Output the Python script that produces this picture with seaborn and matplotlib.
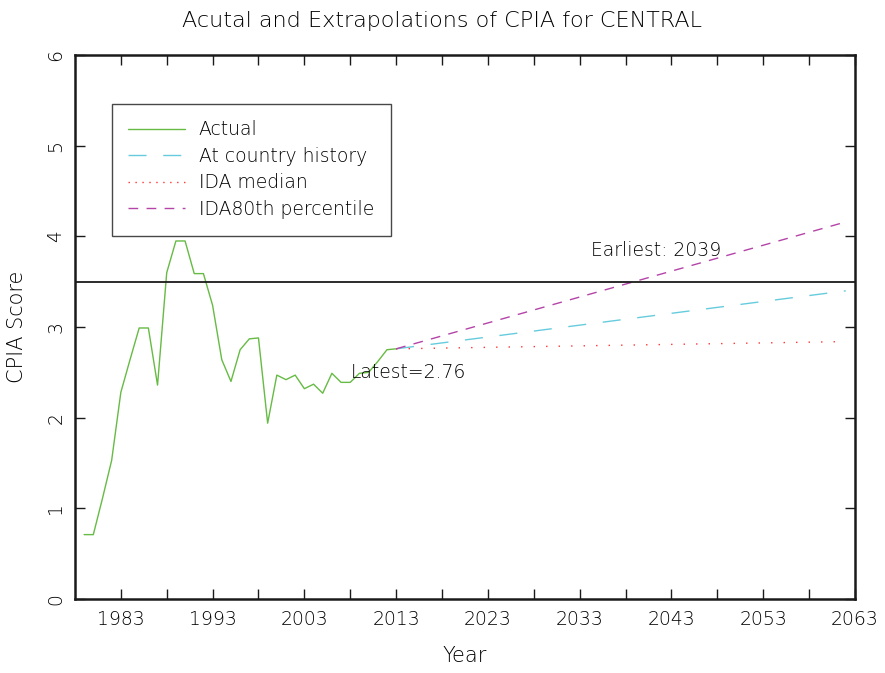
import matplotlib
matplotlib.use("Agg")
import matplotlib.pyplot as plt
import seaborn as sns
import pandas as pd
from matplotlib.lines import Line2D

# ---- data ----
actual_years = list(range(1979, 2014))
actual_values = [0.71, 0.71, 1.11, 1.53, 2.28, 2.64, 2.99, 2.99, 2.36, 3.60,
                 3.95, 3.95, 3.59, 3.59, 3.24, 2.64, 2.40, 2.75, 2.87, 2.88,
                 1.94, 2.47, 2.42, 2.47, 2.32, 2.37, 2.27, 2.49, 2.39, 2.39,
                 2.49, 2.50, 2.62, 2.75, 2.76]
extrap_years = [2013, 2062]
country_history = [2.76, 3.40]
ida_median = [2.76, 2.84]
ida_80th = [2.76, 4.16]
threshold = 3.5
latest_label = "Latest=2.76"
earliest_label = "Earliest: 2039"
xtick_major = [1983, 1993, 2003, 2013, 2023, 2033, 2043, 2053, 2063]
xtick_minor = [1988, 1998, 2008, 2018, 2028, 2038, 2048, 2058]
ytick_vals = [0, 1, 2, 3, 4, 5, 6]
legend_labels = ["Actual", "At country history", "IDA median", "IDA80th percentile"]

sns.set_style("white")
plt.rcParams['font.family'] = ['DejaVu Sans']
plt.rcParams['font.weight'] = 'light'
plt.rcParams['axes.labelweight'] = 'light'
plt.rcParams['figure.titleweight'] = 'light'

TXT = "#000000"
fig = plt.figure(figsize=(8.85, 6.73), dpi=100)
ax = fig.add_axes([0.0847, 0.110, 0.8813, 0.808])

c_act = "#66bb44"
c_cty = "#66ccdd"
c_med = "#ff3333"
c_80 = "#b444a8"

df_act = pd.DataFrame({"Year": actual_years, "CPIA": actual_values})
sns.lineplot(data=df_act, x="Year", y="CPIA", ax=ax, color=c_act, linewidth=1.0)
df_cty = pd.DataFrame({"Year": extrap_years, "CPIA": country_history})
sns.lineplot(data=df_cty, x="Year", y="CPIA", ax=ax, color=c_cty, linewidth=1.0)
ax.lines[-1].set_dashes((13, 12))
df_med = pd.DataFrame({"Year": extrap_years, "CPIA": ida_median})
sns.lineplot(data=df_med, x="Year", y="CPIA", ax=ax, color=c_med, linewidth=1.0)
ax.lines[-1].set_dashes((1, 8))
df_80 = pd.DataFrame({"Year": extrap_years, "CPIA": ida_80th})
sns.lineplot(data=df_80, x="Year", y="CPIA", ax=ax, color=c_80, linewidth=1.0)
ax.lines[-1].set_dashes((7, 6))

ax.axhline(threshold, color="#1a1a1a", linewidth=1.3)

ax.set_xlim(1978, 2063)
ax.set_ylim(0, 6)
ax.set_xticks(xtick_major)
ax.set_xticks(xtick_minor, minor=True)
ax.set_yticks(ytick_vals)
ax.set_xticklabels([str(v) for v in xtick_major], fontsize=13.5, color=TXT)
ax.set_yticklabels([str(v) for v in ytick_vals], fontsize=13.5, rotation=90,
                   va="center", color=TXT)
ax.tick_params(axis="both", which="both", direction="in", length=7, width=1,
               top=True, right=True, bottom=True, left=True, color="#1a1a1a")
ax.tick_params(axis="x", which="major", pad=8)
ax.tick_params(axis="y", which="major", pad=7)
for s in ax.spines.values():
    s.set_linewidth(1.8)
    s.set_color("#1a1a1a")

ax.set_xlabel("Year", fontsize=15, color=TXT, labelpad=12)
ax.set_ylabel("CPIA Score", fontsize=15, color=TXT, labelpad=14)
fig.suptitle("Acutal and Extrapolations of CPIA for CENTRAL", fontsize=16,
             color=TXT, y=0.983)

ax.text(2008.1, 2.50, latest_label, fontsize=13.5, color=TXT, va="center", ha="left")
ax.text(2041.3, 3.85, earliest_label, fontsize=13.5, color=TXT, va="center", ha="center")

handles = [
    Line2D([], [], color=c_act, linewidth=1.0),
    Line2D([], [], color=c_cty, linewidth=1.0, dashes=(13, 12)),
    Line2D([], [], color=c_med, linewidth=1.0, dashes=(1, 4)),
    Line2D([], [], color=c_80, linewidth=1.0, dashes=(7, 6)),
]
leg = ax.legend(handles, legend_labels, loc="upper left",
                bbox_to_anchor=(0.047, 0.911), borderaxespad=0,
                fontsize=13.5, frameon=True, fancybox=False,
                handlelength=3.0, handletextpad=0.75, labelspacing=0.4,
                borderpad=0.9)
leg.get_frame().set_edgecolor("#1a1a1a")
leg.get_frame().set_linewidth(1.0)
for t in leg.get_texts():
    t.set_color(TXT)

fig.savefig("out.png", dpi=100)
